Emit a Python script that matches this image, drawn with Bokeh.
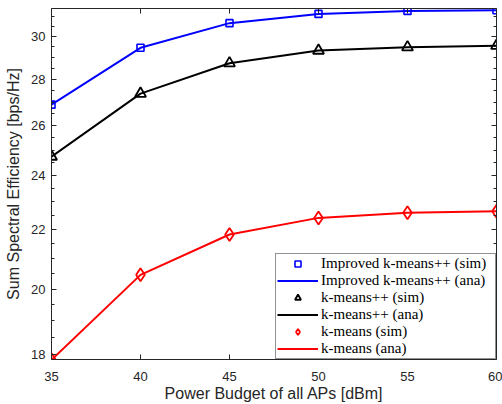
from bokeh.plotting import figure
from bokeh.models import (Range1d, FixedTicker, LogAxis, LinearAxis, Legend,
                          LegendItem, PrintfTickFormatter)
from bokeh.embed import file_html
from bokeh.resources import INLINE

# ---- data ----
power = [35, 40, 45, 50, 55, 60]
improved_sim = [26.89, 29.46, 30.65, 31.11, 31.26, 31.29]
improved_ana = [26.89, 29.46, 30.65, 31.11, 31.26, 31.29]
kpp_sim = [24.74, 27.37, 28.74, 29.33, 29.49, 29.56]
kpp_ana = [24.74, 27.37, 28.74, 29.33, 29.49, 29.56]
km_sim = [17.85, 20.46, 21.83, 22.42, 22.61, 22.66]
km_ana = [17.85, 20.46, 21.83, 22.42, 22.61, 22.66]

x_ticks = [35, 40, 45, 50, 55, 60]
y_ticks = [18, 20, 22, 24, 26, 28, 30]
y_minor = [18.5, 19, 19.5, 20.5, 21, 21.5, 22.5, 23, 23.5, 24.5, 25, 25.5,
           26.5, 27, 27.5, 28.5, 29, 29.5, 30.5, 31]

labels = ["Improved k-means++ (sim)", "Improved k-means++ (ana)",
          "k-means++ (sim)", "k-means++ (ana)",
          "k-means (sim)", "k-means (ana)"]

AX = "#262626"
SANS = "Liberation Sans"
SERIF = "Liberation Serif"

p = figure(frame_width=445, frame_height=351,
           min_border_left=51, min_border_right=6,
           min_border_top=8, min_border_bottom=45,
           x_range=Range1d(35, 60), y_range=Range1d(17.86, 31.38),
           y_axis_type="log", output_backend="svg", toolbar_location=None,
           background_fill_color="white", border_fill_color="white")
p.grid.visible = False
p.outline_line_color = None

# main axes
xa = p.xaxis[0]
xa.ticker = FixedTicker(ticks=x_ticks)
xa.axis_label = "Power Budget of all APs [dBm]"
ya = p.yaxis[0]
ya.ticker = FixedTicker(ticks=y_ticks, minor_ticks=y_minor)
ya.formatter = PrintfTickFormatter(format="%d")
ya.axis_label = "Sum Spectral Efficiency [bps/Hz]"

for ax in (xa, ya):
    ax.axis_line_color = AX
    ax.major_tick_line_color = AX
    ax.minor_tick_line_color = AX
    ax.major_tick_in = 5
    ax.major_tick_out = 0
    ax.minor_tick_in = 3
    ax.minor_tick_out = 0
    ax.major_label_text_font = SANS
    ax.major_label_text_font_size = "13px"
    ax.major_label_text_color = AX
    ax.axis_label_text_font = SANS
    ax.axis_label_text_font_size = "16px"
    ax.axis_label_text_font_style = "normal"
    ax.axis_label_text_color = AX
xa.major_label_standoff = 12
xa.axis_label_standoff = 1
ya.major_label_standoff = 6
ya.axis_label_standoff = 6

# mirrored box axes (ticks only, no labels)
top = LinearAxis(ticker=FixedTicker(ticks=x_ticks))
right = LogAxis(ticker=FixedTicker(ticks=y_ticks, minor_ticks=y_minor))
for ax in (top, right):
    ax.axis_line_color = AX
    ax.major_tick_line_color = AX
    ax.minor_tick_line_color = AX
    ax.major_tick_in = 5
    ax.major_tick_out = 0
    ax.minor_tick_in = 3
    ax.minor_tick_out = 0
    ax.major_label_text_font_size = "1px"
    ax.major_label_text_color = None
    ax.major_label_standoff = 0
p.add_layout(top, "above")
p.add_layout(right, "right")

# series
r1s = p.scatter(power, improved_sim, marker="square", size=7, fill_color=None,
                line_color="#0000FF", line_width=1.6)
r1a = p.line(power, improved_ana, line_color="#0000FF", line_width=2)
r2s = p.scatter(power, kpp_sim, marker="triangle", size=11, fill_color=None,
                line_color="black", line_width=1.8)
r2a = p.line(power, kpp_ana, line_color="black", line_width=2)
r3s = p.scatter(power, km_sim, marker="diamond", size=13, fill_color=None,
                line_color="#FF0000", line_width=1.8)
r3a = p.line(power, km_ana, line_color="#FF0000", line_width=2)

items = [LegendItem(label=l, renderers=[r]) for l, r in
         zip(labels, [r1s, r1a, r2s, r2a, r3s, r3a])]
legend = Legend(items=items, location="bottom_right", margin=0,
                padding=1, spacing=0, glyph_width=41, glyph_height=15,
                label_height=15, label_width=173, label_standoff=3,
                label_text_font=SERIF, label_text_font_size="15px",
                label_text_color="black",
                border_line_color="#262626", border_line_width=1,
                background_fill_color="white", background_fill_alpha=1)
p.add_layout(legend, "center")

open("out.html", "w").write(file_html(p, INLINE))
